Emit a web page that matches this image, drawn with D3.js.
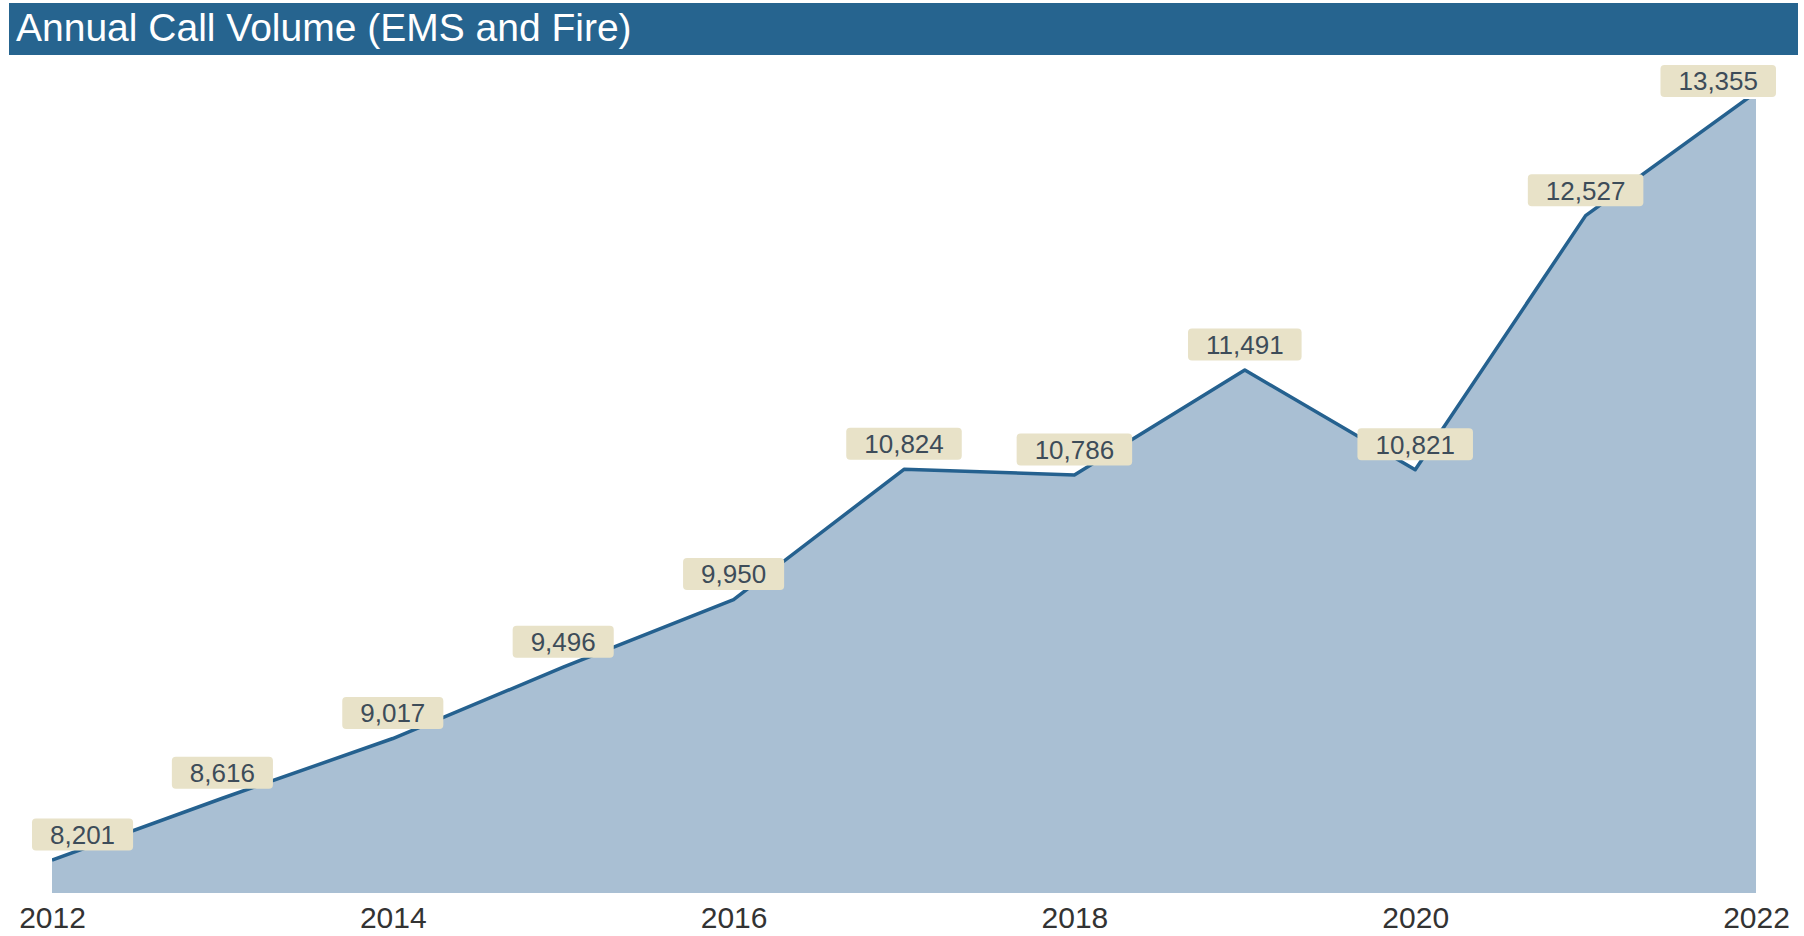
<!DOCTYPE html>
<html>
<head>
<meta charset="utf-8">
<script src="https://cdn.jsdelivr.net/npm/d3@7"></script>
<style>
  html, body { margin: 0; padding: 0; background: #ffffff; }
  svg { display: block; font-family: "Liberation Sans", Arial, sans-serif; }
</style>
</head>
<body>
<svg id="chart" width="1804" height="936"></svg>
<script>
// Annual call volume, EMS and Fire combined
const years = [2012, 2013, 2014, 2015, 2016, 2017, 2018, 2019, 2020, 2021, 2022];
const calls = [8201, 8616, 9017, 9496, 9950, 10824, 10786, 11491, 10821, 12527, 13355];
const tickYears = [2012, 2014, 2016, 2018, 2020, 2022];
const titleText = "Annual Call Volume (EMS and Fire)";

const data = years.map((y, i) => ({ year: y, value: calls[i] }));

const svg = d3.select("#chart");

// Title banner
svg.append("rect")
  .attr("x", 9).attr("y", 3)
  .attr("width", 1789).attr("height", 52)
  .attr("fill", "#26648f");
svg.append("text")
  .attr("x", 16).attr("y", 41)
  .attr("fill", "#ffffff")
  .attr("font-size", 39)
  .text(titleText);

// Scales (value axis does not start at zero; the plot clips at its top edge)
const x = d3.scaleLinear().domain([2012, 2022]).range([52, 1756]);
const y = d3.scaleLinear().domain([7980, 13310]).range([893, 99]);

svg.append("clipPath").attr("id", "plot-clip")
  .append("rect")
  .attr("x", x.range()[0]).attr("y", y.range()[1])
  .attr("width", x.range()[1] - x.range()[0])
  .attr("height", y.range()[0] - y.range()[1]);

const plot = svg.append("g").attr("clip-path", "url(#plot-clip)");

// Filled area under the series
const area = d3.area()
  .x(d => x(d.year))
  .y0(y.range()[0])
  .y1(d => y(d.value));
plot.append("path")
  .datum(data)
  .attr("d", area)
  .attr("fill", "#a9bfd3");

// Series line
const line = d3.line()
  .x(d => x(d.year))
  .y(d => y(d.value));
plot.append("path")
  .datum(data)
  .attr("d", line)
  .attr("fill", "none")
  .attr("stroke", "#25618f")
  .attr("stroke-width", 3.5)
  .attr("stroke-linejoin", "round");

// X axis: year labels only
const axis = d3.axisBottom(x)
  .tickValues(tickYears)
  .tickFormat(d3.format("d"))
  .tickSize(0)
  .tickPadding(14);
const gx = svg.append("g")
  .attr("transform", `translate(0,${y.range()[0]})`)
  .call(axis);
gx.select(".domain").remove();
gx.selectAll("text")
  .attr("font-size", 30)
  .attr("font-family", "\"Liberation Sans\", Arial, sans-serif")
  .attr("fill", "#333333");

// Value labels in tan boxes, kept inside the chart edges
const fmt = d3.format(",");
const fontSize = 26;
const boxH = 32, padX = 18, gap = 9.5;
const minX = x.range()[0] - 20, maxX = x.range()[1] + 20, minTop = 65;

const labels = svg.append("g");
data.forEach(d => {
  const g = labels.append("g");
  const t = g.append("text")
    .attr("font-size", fontSize)
    .attr("fill", "#3d4c59")
    .attr("text-anchor", "middle")
    .text(fmt(d.value));
  const tw = t.node().getComputedTextLength();
  const bw = tw + padX * 2;
  let cx = x(d.year);
  cx = Math.max(minX + bw / 2, Math.min(maxX - bw / 2, cx));
  let top = y(d.value) - gap - boxH;
  top = Math.max(minTop, top);
  g.insert("rect", "text")
    .attr("x", cx - bw / 2).attr("y", top)
    .attr("width", bw).attr("height", boxH)
    .attr("rx", 4).attr("ry", 4)
    .attr("fill", "#e8e2c8");
  t.attr("x", cx).attr("y", top + boxH / 2 + fontSize * 0.36);
});
</script>
</body>
</html>
